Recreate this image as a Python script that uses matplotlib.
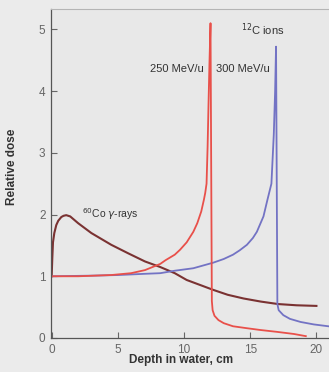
import matplotlib
matplotlib.use('Agg')
import matplotlib.pyplot as plt
import numpy as np

plt.rcParams['font.family'] = ['Liberation Sans', 'DejaVu Sans']

## depth-dose curves (depth in cm, relative dose)
co_depth = [0.0, 0.05, 0.1, 0.2, 0.35, 0.5, 0.73, 0.9, 1.1, 1.4, 2.0, 3.0, 4.5,
            5.8, 7.05, 8.2, 9.3, 10.2, 11.2, 12.2, 13.3, 14.5, 15.8, 17.1, 18.5, 20.0]
co_dose = [1.0, 1.3, 1.55, 1.7, 1.83, 1.9, 1.96, 1.98, 1.99, 1.97, 1.86, 1.7, 1.51,
           1.37, 1.24, 1.15, 1.05, 0.94, 0.86, 0.78, 0.7, 0.64, 0.59, 0.55, 0.53, 0.52]

c250_depth = [0.0, 2.0, 4.5, 6.0, 7.05, 8.2, 8.6, 9.3, 9.7, 10.2, 10.7, 11.0, 11.3,
              11.5, 11.6, 11.7, 11.78, 11.85, 11.92, 12.0, 12.1, 12.16, 12.3,
              12.6, 13.0, 13.7, 14.7, 15.75, 17.0, 18.3, 19.2]
c250_dose = [1.0, 1.0, 1.02, 1.05, 1.1, 1.2, 1.26, 1.35, 1.43, 1.55, 1.72, 1.86, 2.05,
             2.24, 2.35, 2.5, 3.1, 3.8, 4.45, 5.1, 0.6, 0.45, 0.36,
             0.29, 0.24, 0.19, 0.16, 0.13, 0.1, 0.065, 0.03]

c300_depth = [0.0, 3.0, 5.0, 7.05, 8.2, 9.3, 10.7, 12.2, 13.0, 13.7, 14.2, 14.75, 15.2,
              15.5, 16.0, 16.3, 16.6, 16.78, 16.88, 16.95, 17.05, 17.15, 17.5,
              18.0, 18.8, 19.8, 20.9]
c300_dose = [1.0, 1.01, 1.02, 1.04, 1.05, 1.09, 1.13, 1.22, 1.28, 1.35, 1.42, 1.51, 1.62,
             1.72, 1.97, 2.24, 2.5, 3.3, 4.0, 4.72, 0.55, 0.45, 0.37,
             0.31, 0.26, 0.22, 0.19]

x_ticks = [0, 5, 10, 15, 20]
y_ticks = [0, 1, 2, 3, 4, 5]

fig = plt.figure(figsize=(3.29, 3.72), dpi=100, facecolor='#ebebeb')
ax = fig.add_axes([0.155, 0.0914, 0.845, 0.8844])
ax.set_facecolor('#e8e8e8')

ax.plot(co_depth, co_dose, color='#7a3232', lw=1.5)
ax.plot(c300_depth, c300_dose, color='#7373c4', lw=1.3)
ax.plot(c250_depth, c250_dose, color='#e8504a', lw=1.3)

ax.set_xlim(-0.05, 20.95)
ax.set_ylim(0, 5.33)
ax.set_xticks(x_ticks)
ax.set_yticks(y_ticks)
ax.tick_params(direction='in', length=4, width=0.8, colors='#666666',
               labelsize=8.5, labelcolor='#666666', pad=4)

for side in ['left', 'bottom']:
    ax.spines[side].set_color('#555555')
    ax.spines[side].set_linewidth(0.9)
ax.spines['top'].set_color('#b5b5b5')
ax.spines['top'].set_linewidth(0.8)
ax.spines['right'].set_visible(False)

ax.set_xlabel('Depth in water, cm', fontsize=8.5, fontweight='bold', color='#333333')
ax.xaxis.set_label_coords(0.467, -0.05)
ax.set_ylabel('Relative dose', fontsize=8.5, fontweight='bold', color='#333333')
ax.yaxis.set_label_coords(-0.12, 0.52)

ax.text(11.5, 4.35, '250 MeV/u', fontsize=8, color='#333333', ha='right', va='center')
ax.text(12.45, 4.35, '300 MeV/u', fontsize=8, color='#333333', ha='left', va='center')
ax.text(14.3, 5.0, r'$^{12}$C ions', fontsize=8, color='#333333', ha='left', va='center')
ax.text(2.3, 2.0, r'$^{60}$Co $\gamma$-rays', fontsize=7.5, color='#333333',
        ha='left', va='center')

fig.savefig('out.png', dpi=100, facecolor=fig.get_facecolor())
